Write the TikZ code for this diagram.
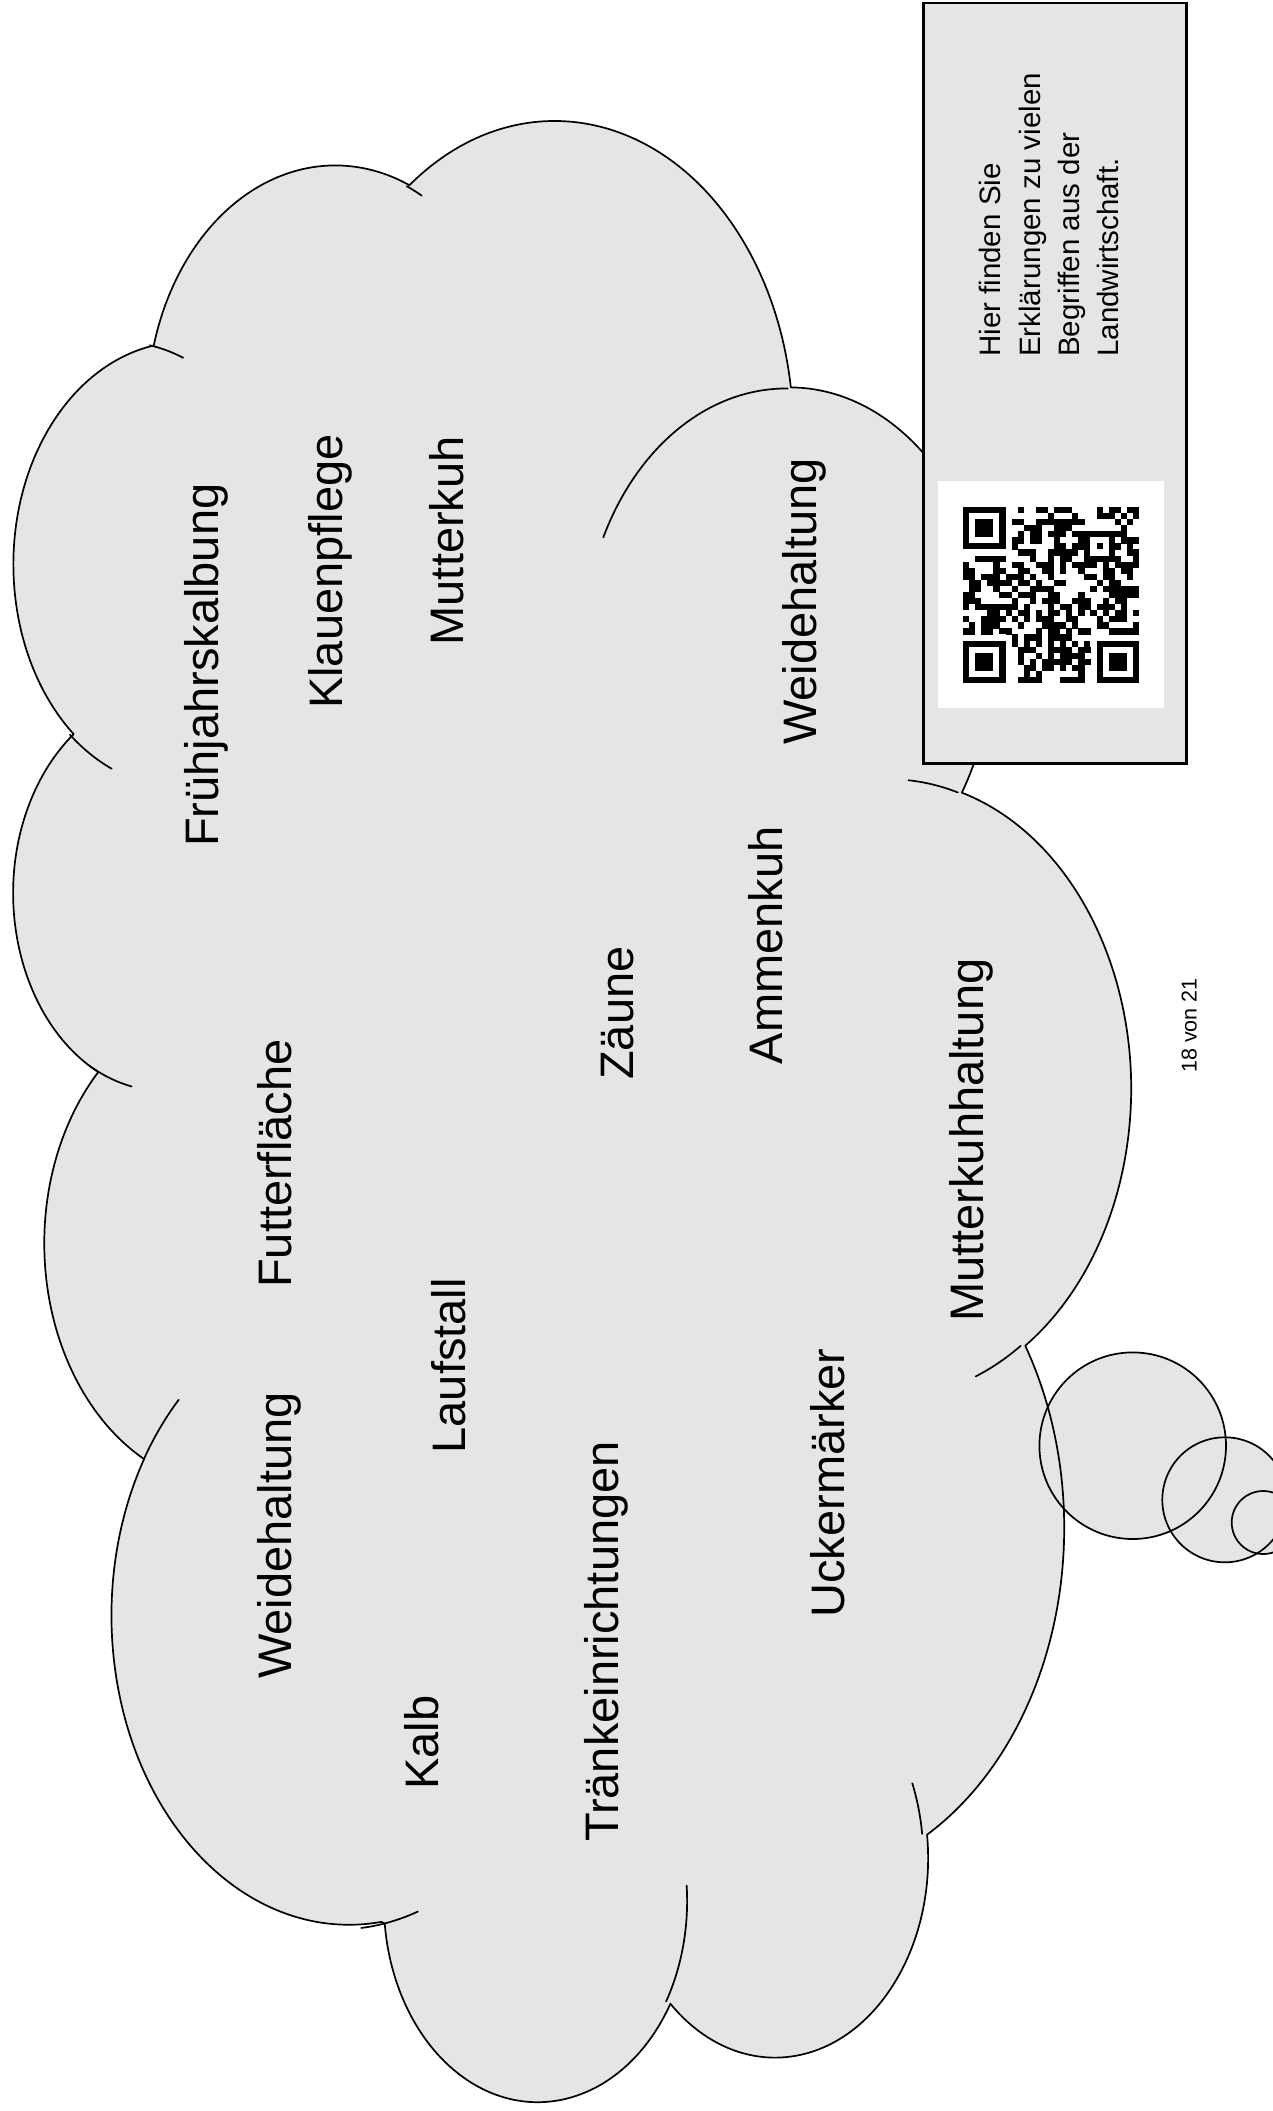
\documentclass[tikz,border=0pt]{standalone}
\usepackage{fontspec}
\setmainfont[Ligatures=NoCommon]{Liberation Sans}
\pgfmathdeclarefunction{ooang}{3}{\pgfmathparse{atan2(#1*sin(#3),#2*cos(#3))}}
\tikzset{
  ooarc/.style n args={4}{insert path={arc[x radius={0.1pt*#1}, y radius={0.1pt*#2}, start angle={ooang(#1,#2,#3)}, delta angle={mod(ooang(#1,#2,#3+#4)-ooang(#1,#2,#3)+720,360)}]}},
  cloudline/.style={line width=1.7pt, line join=round, line cap=round},
  cloudfill/.style={fill=black!10},
  word/.style={rotate=90, anchor=base west, inner sep=0pt, font=\fontsize{47}{56}\selectfont},
  note/.style={rotate=90, anchor=base west, inner sep=0pt, font=\fontsize{29.5}{36}\selectfont},
  pagenum/.style={rotate=90, anchor=base west, inner sep=0pt, font=\fontsize{21.5}{26}\selectfont},
  infobox/.style={line width=2.2pt, fill=black!10},
  qrdark/.style={fill=black},
}
\def\qrm{6.07}
\begin{document}
\begin{tikzpicture}[x=1pt,y=-1pt]
\useasboundingbox (0,0) rectangle (1273,2111);
\clip (0,0) rectangle (1273,2111);
% thought bubbles (fill)
\fill[cloudfill] (1132.7,1445.7) circle[radius=93.3pt];
\fill[cloudfill] (1224.8,1499.8) circle[radius=62.5pt];
\fill[cloudfill] (1263.2,1522.5) circle[radius=31.5pt];
% cloud
\begin{scope}[cm={0,0.45799,0.25868,0,(9.5pt,-2100.5pt)}]
\filldraw[cloudfill, cloudline] (390pt,1437pt)
  [ooarc={6753}{9190}{-190.48748}{123.78053}]
  [ooarc={5333}{7267}{-144.10238}{89.94523}]
  [ooarc={4365}{5945}{-145.80792}{99.72302}]
  [ooarc={4857}{6595}{-130.98607}{117.24173}]
  [ooarc={5333}{7273}{-78.70888}{109.02692}]
  [ooarc={6775}{9220}{-46.26725}{130.269}]
  [ooarc={5785}{7867}{0.62502}{114.03333}]
  [ooarc={6752}{9215}{22.4516}{115.17255}]
  [ooarc={7720}{10543}{66.24263}{75.71102}]
  [ooarc={4360}{5918}{-274.94208}{146.73557}]
  [ooarc={4345}{5945}{-246.8285}{152.51885}]
  -- cycle;
\draw[cloudline]
  (469.3pt,2617.7pt) [ooarc={4345}{5945}{86.742}{26.4295}]
  (692.8pt,3489.9pt) [ooarc={4360}{5918}{73.61047}{11.44747}]
  (1647.8pt,3909pt) [ooarc={6752}{9215}{137.62415}{14.0811}]
  (2882.7pt,3475.1pt) [ooarc={6752}{9215}{6.45327}{15.99835}]
  (3412.9pt,2295.4pt) [ooarc={5785}{7867}{-70.29235}{70.91737}]
  (4179.8pt,1535.4pt) [ooarc={5333}{7273}{30.31803}{6}]
  (3832.4pt,542.6pt) [ooarc={4857}{6595}{13.74433}{14.86037}]
  (2907.8pt,395.2pt) [ooarc={4857}{6595}{-149.18145}{18.19585}]
  (2214.1pt,472pt) [ooarc={4365}{5945}{-163.49427}{20.59463}]
  (1400pt,519.2pt) [ooarc={6753}{9190}{-66.70695}{12.31935}]
  (412.7pt,1578.9pt) [ooarc={6753}{9190}{154.14915}{18.29598}];
\end{scope}
% thought bubbles (outline)
\draw[cloudline] (1132.7,1445.7) circle[radius=93.3pt];
\draw[cloudline] (1224.8,1499.8) circle[radius=62.5pt];
\draw[cloudline] (1263.2,1522.5) circle[radius=31.5pt];
% words
\node[word] (fruehjahr) at (218,847) {Frühjahrskalbung};
\node[word] (klauen) at (342,709) {Klauenpflege};
\node[word] (mutterkuh) at (463,645.5) {Mutterkuh};
\node[word] (weideA) at (816,745) {Weidehaltung};
\node[word] (futter) at (291,1288) {Futterfläche};
\node[word] (laufstall) at (465,1453.5) {Laufstall};
\node[word] (weideB) at (291,1679) {Weidehaltung};
\node[word] (kalb) at (438,1790) {Kalb};
\node[word] (traenke) at (618,1842) {Tränkeinrichtungen};
\node[word] (zaeune) at (633,1080) {Zäune};
\node[word] (ammenkuh) at (782,1064.5) {Ammenkuh};
\node[word] (mkh) at (983,1322) {Mutterkuhhaltung};
\node[word] (ucker) at (844,1617.7) {Uckermärker};
% info box
\draw[infobox] (923.5,3) rectangle (1186.5,763.5);
\node[note] (noteA) at (1000,357) {Hier finden Sie};
\node[note] (noteB) at (1040,357) {Erklärungen zu vielen};
\node[note] (noteC) at (1079,357) {Begriffen aus der};
\node[note] (noteD) at (1118,357) {Landwirtschaft.};
% QR code
\fill[white] (938,481) rectangle (1164,708);
\pgfmathsetseed{4711}
\foreach \qc in {0,...,28}{\foreach \qr in {0,...,28}{
  \pgfmathrandominteger{\qrbit}{0}{1}
  \pgfmathtruncatemacro\qrres{((\qc<8)*(\qr<8)) + ((\qc<8)*(\qr>20)) + ((\qc>20)*(\qr>20)) + ((\qc>19)*(\qc<25)*(\qr>3)*(\qr<9)) + (\qc==6) + (\qr==22)}
  \ifnum\qrres=0 \ifnum\qrbit=1 \fill[qrdark] ({963+\qc*\qrm},{507+\qr*\qrm}) rectangle ++(6.2,6.2);\fi\fi
}}
\foreach \fc/\fr in {0/0,0/22,22/22}{
  \fill[black] ({963+\fc*\qrm},{507+\fr*\qrm}) rectangle ++({7*\qrm},{7*\qrm});
  \fill[white] ({963+(\fc+1)*\qrm},{507+(\fr+1)*\qrm}) rectangle ++({5*\qrm},{5*\qrm});
  \fill[black] ({963+(\fc+2)*\qrm},{507+(\fr+2)*\qrm}) rectangle ++({3*\qrm},{3*\qrm});
}
\fill[black] ({963+20*\qrm},{507+4*\qrm}) rectangle ++({5*\qrm},{5*\qrm});
\fill[white] ({963+21*\qrm},{507+5*\qrm}) rectangle ++({3*\qrm},{3*\qrm});
\fill[black] ({963+22*\qrm},{507+6*\qrm}) rectangle ++({\qrm},{\qrm});
\foreach \t in {8,10,...,20}{
  \fill[black] ({963+6*\qrm},{507+\t*\qrm}) rectangle ++({\qrm},{\qrm});
  \fill[black] ({963+\t*\qrm},{507+22*\qrm}) rectangle ++({\qrm},{\qrm});
}
% page number
\node[pagenum] (page) at (1196.5,1073) {18 von 21};
\end{tikzpicture}
\end{document}
